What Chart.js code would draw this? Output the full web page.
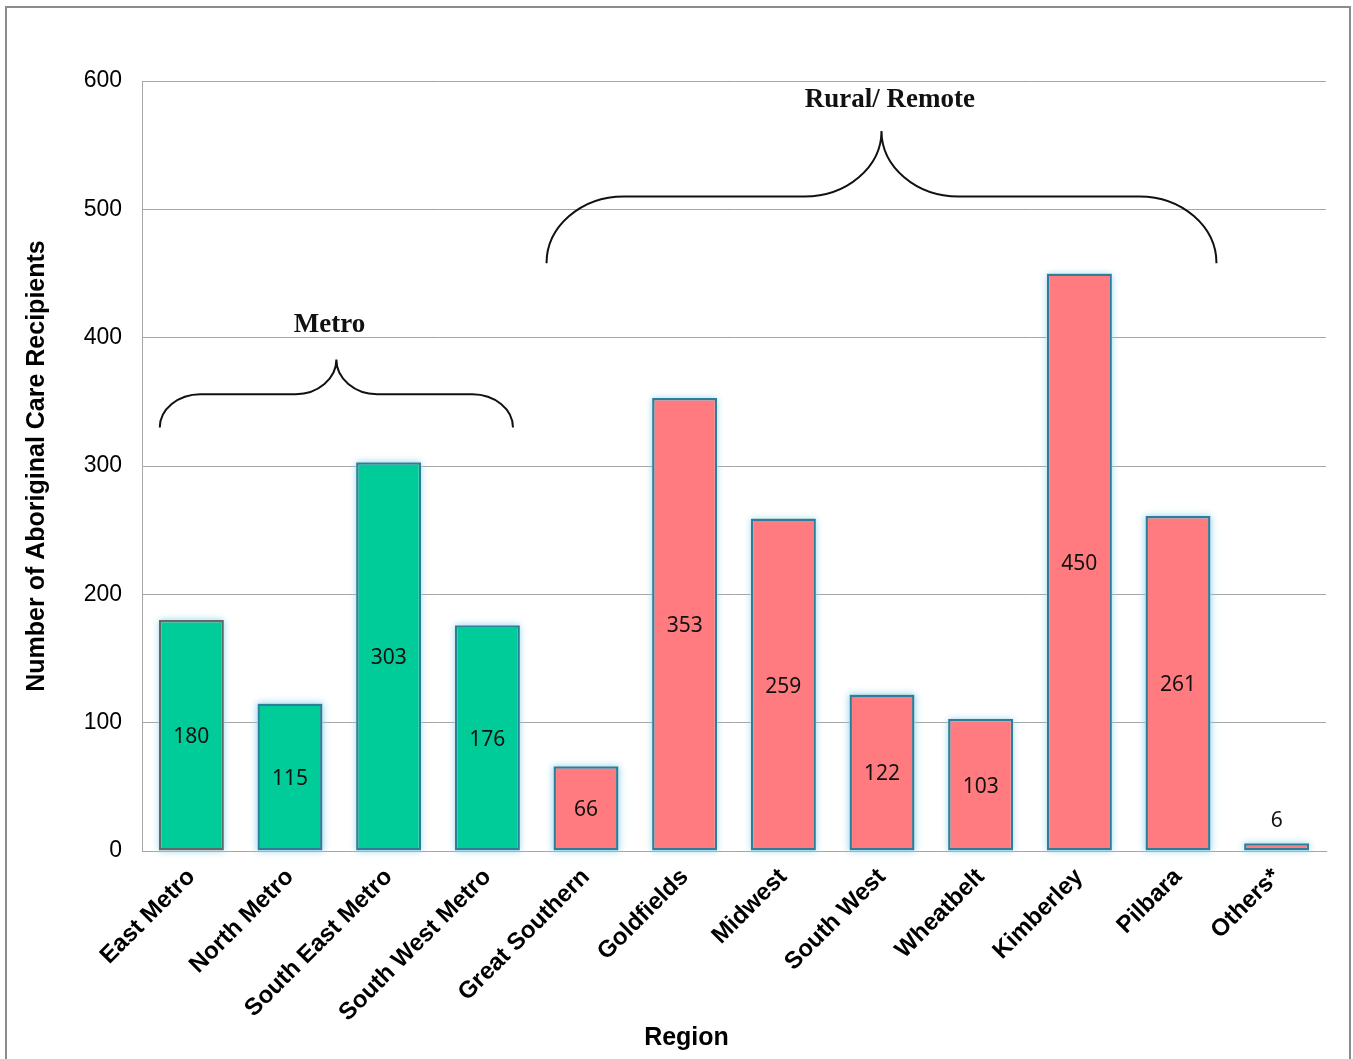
<!DOCTYPE html>
<html>
<head>
<meta charset="utf-8">
<script src="https://cdn.jsdelivr.net/npm/chart.js@4"></script>
<style>
  html, body { margin: 0; padding: 0; background: #fff; }
  #wrap { position: relative; width: 1353px; height: 1059px; }
  #frame { position: absolute; left: 5px; top: 6px; width: 1346px; height: 1060px; border: 2px solid #8c8c8c; box-sizing: border-box; pointer-events: none; }
</style>
</head>
<body>
<div id="wrap">
  <canvas id="myChart" width="1353" height="1059"></canvas>
  <div id="frame"></div>
</div>
<script>
let regions = ["East Metro", "North Metro", "South East Metro", "South West Metro", "Great Southern",
  "Goldfields", "Midwest", "South West", "Wheatbelt", "Kimberley", "Pilbara", "Others*"];
let recipients = [180, 115, 303, 176, 66, 353, 259, 122, 103, 450, 261, 6];
let groups = ["Metro", "Metro", "Metro", "Metro", "Rural", "Rural", "Rural", "Rural", "Rural", "Rural", "Rural", "Rural"];
let yTicks = [0, 100, 200, 300, 400, 500, 600];

// braces: label, from index, to index, tip value, flat value, end value, label position
let braceLabels = ["Metro", "Rural/ Remote"];
let braceFrom = [-0.32, 3.6];
let braceTo = [3.26, 10.39];
let braceTip = [383, 561];
let braceFlat = [356, 510];
let braceEnd = [330, 458];
let braceTextAt = [1.4, 7.08];
let braceTextValue = [410, 585];

const barColors = groups.map((g) => (g == "Metro" ? "#00CC99" : "#FF7B7F"));
const barBorders = regions.map((r, i) => (i == 0 ? "#5f6b6b" : "#2c7f9b"));

// light glow around bars, drawn under the bars
const glowPlugin = {
  id: "glow",
  beforeDatasetDraw(chart) {
    const ctx = chart.ctx;
    const meta = chart.getDatasetMeta(0);
    ctx.save();
    ctx.shadowColor = "rgba(140, 210, 235, 0.95)";
    ctx.shadowBlur = 7;
    ctx.fillStyle = "#ffffff";
    meta.data.forEach((bar) => {
      const half = bar.width / 2;
      ctx.fillRect(bar.x - half, bar.y, bar.width, bar.base - bar.y);
    });
    ctx.restore();
  },
};

// values in the middle of each bar
const valuePlugin = {
  id: "values",
  afterDatasetsDraw(chart) {
    const ctx = chart.ctx;
    const meta = chart.getDatasetMeta(0);
    ctx.save();
    ctx.font = "21px 'Noto Sans'";
    ctx.fillStyle = "#111";
    ctx.textAlign = "center";
    ctx.textBaseline = "middle";
    meta.data.forEach((bar, i) => {
      const h = bar.base - bar.y;
      if (h < 30) {
        ctx.fillText(recipients[i], bar.x, bar.y - 22);
      } else {
        ctx.fillText(recipients[i], bar.x, (bar.y + bar.base) / 2 + 2);
      }
    });
    ctx.restore();
  },
};

// curly braces with group names, plus the x axis title
const bracePlugin = {
  id: "braces",
  afterDraw(chart) {
    const ctx = chart.ctx;
    const xs = chart.scales.x;
    const ys = chart.scales.y;
    ctx.save();
    ctx.strokeStyle = "#111";
    ctx.lineWidth = 2;
    for (let i = 0; i < braceLabels.length; i++) {
      const x0 = xs.getPixelForValue(braceFrom[i]);
      const x1 = xs.getPixelForValue(braceTo[i]);
      const xm = (x0 + x1) / 2;
      const yT = ys.getPixelForValue(braceTip[i]);
      const yF = ys.getPixelForValue(braceFlat[i]);
      const yE = ys.getPixelForValue(braceEnd[i]);
      const rx = (x1 - x0) * 0.115;
      const k = 0.55;
      ctx.beginPath();
      ctx.moveTo(x0, yE);
      ctx.bezierCurveTo(x0, yE - (yE - yF) * k, x0 + rx * (1 - k), yF, x0 + rx, yF);
      ctx.lineTo(xm - rx, yF);
      ctx.bezierCurveTo(xm - rx * (1 - k), yF, xm, yF - (yF - yT) * (1 - k), xm, yT);
      ctx.bezierCurveTo(xm, yF - (yF - yT) * (1 - k), xm + rx * (1 - k), yF, xm + rx, yF);
      ctx.lineTo(x1 - rx, yF);
      ctx.bezierCurveTo(x1 - rx * (1 - k), yF, x1, yE - (yE - yF) * k, x1, yE);
      ctx.stroke();

      ctx.font = "bold 27px 'Liberation Serif'";
      ctx.fillStyle = "#111";
      ctx.textAlign = "center";
      ctx.textBaseline = "middle";
      ctx.fillText(braceLabels[i], xs.getPixelForValue(braceTextAt[i]), ys.getPixelForValue(braceTextValue[i]));
    }

    ctx.font = "bold 25px 'Liberation Sans', Arial";
    ctx.fillStyle = "#000";
    ctx.textAlign = "center";
    ctx.textBaseline = "middle";
    ctx.fillText("Region", chart.width / 2 + 10, chart.height - 21);
    ctx.restore();
  },
};

const data = {
  labels: regions,
  datasets: [
    {
      label: "Aboriginal Care Recipients",
      data: recipients,
      backgroundColor: barColors,
      borderColor: barBorders,
      borderWidth: 2.5,
      borderSkipped: false,
      barPercentage: 0.66,
      categoryPercentage: 1,
    },
  ],
};

const config = {
  type: "bar",
  data: data,
  plugins: [glowPlugin, valuePlugin, bracePlugin],
  options: {
    responsive: false,
    animation: false,
    layout: { padding: { left: 0, right: 27, top: 81, bottom: 0 } },
    plugins: {
      legend: { display: false },
      tooltip: { enabled: false },
    },
    scales: {
      x: {
        grid: { display: false, drawTicks: false },
        border: { color: "#a6a6a6", width: 1 },
        ticks: {
          color: "#000",
          font: { family: "'Liberation Sans', Arial", size: 24, weight: "bold" },
          minRotation: 45,
          maxRotation: 45,
          padding: 12,
        },
        afterFit(scale) {
          scale.height = 208;
        },
      },
      y: {
        min: 0,
        max: 600,
        afterBuildTicks(scale) {
          scale.ticks = yTicks.map((v) => ({ value: v }));
        },
        grid: { color: "#a6a6a6", lineWidth: 1, drawTicks: false },
        border: { color: "#a6a6a6", width: 1 },
        ticks: {
          color: "#000",
          font: { family: "'Liberation Sans', Arial", size: 23 },
          padding: 20,
        },
        title: {
          display: true,
          text: "Number of Aboriginal Care Recipients",
          color: "#000",
          font: { family: "'Liberation Sans', Arial", size: 25, weight: "bold" },
          padding: { top: 22, bottom: 0 },
        },
        afterFit(scale) {
          scale.width = 142;
        },
      },
    },
  },
};

const myChart = new Chart(document.getElementById("myChart"), config);
</script>
</body>
</html>
